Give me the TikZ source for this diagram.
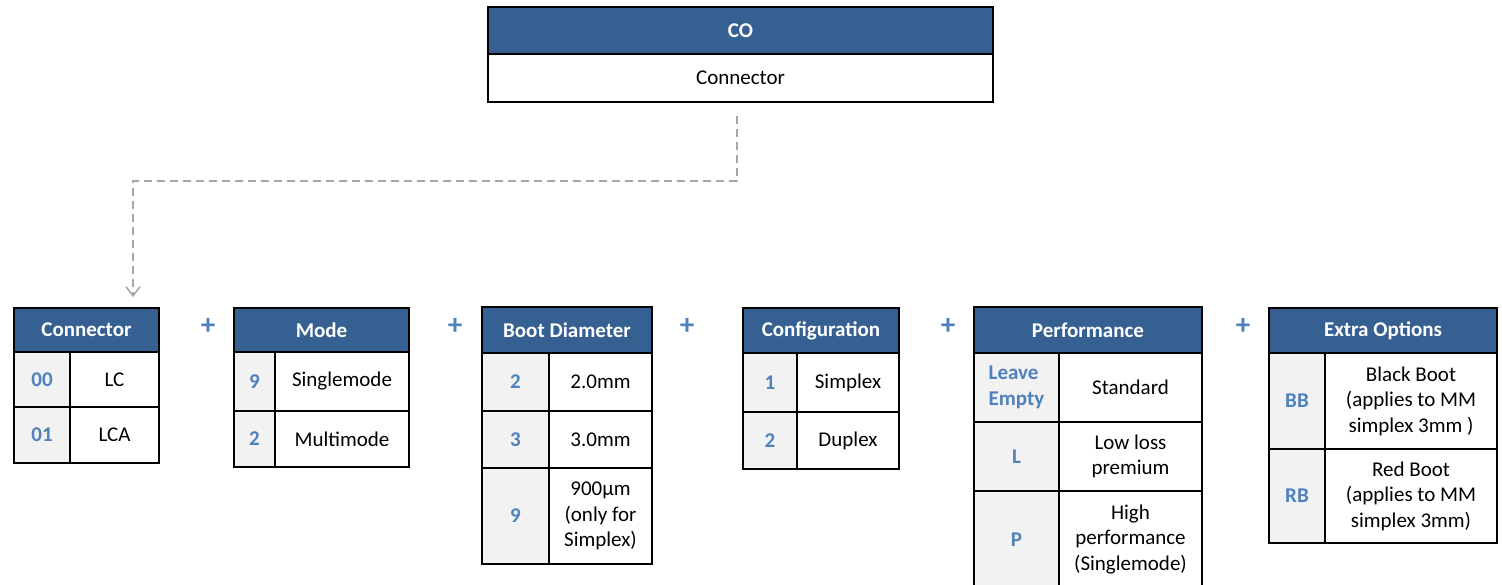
\documentclass[tikz,border=0pt]{standalone}
\usepackage{fontspec}
\setmainfont{Carlito}
\usetikzlibrary{arrows.meta}
\definecolor{hdrblue}{HTML}{366092}
\definecolor{codeblue}{HTML}{4F81BD}
\definecolor{codegray}{HTML}{F2F2F2}
\definecolor{linkgray}{HTML}{A6A6A6}
\begin{document}
\begin{tikzpicture}[x=1pt,y=-1pt,
  every node/.style={font=\fontsize{21}{25.5}\selectfont, inner sep=0pt, outer sep=0pt, anchor=north west},
  cellbox/.style={draw=black, line width=2pt, rectangle},
  hdr/.style={cellbox, fill=hdrblue, text=white, font=\fontsize{21}{25.5}\selectfont\bfseries},
  codecell/.style={cellbox, fill=codegray, text=codeblue, font=\fontsize{21}{25.5}\selectfont\bfseries, align=left},
  txtcell/.style={cellbox, fill=white, text=black, align=center},
  plus/.style={anchor=center, text=codeblue, font=\fontsize{29}{30}\selectfont\bfseries},
  link/.style={draw=linkgray, line width=1.5pt, dash pattern=on 8pt off 5pt, -{Straight Barb[length=9pt,width=14pt]}},
  sz/.style 2 args={minimum width=#1pt, minimum height=#2pt}
]
\clip (0,0) rectangle (1502,584);
\fill[white] (0,0) rectangle (1502,584);

% top box
\node[hdr, sz={505}{47}] (co-h) at (488,7) {CO};
\node[txtcell, sz={505}{48}] (co-b) at (488,54) {Connector};

% Connector table
\node[hdr, sz={145}{44}] (cn-h) at (14,308) {Connector};
\node[codecell, sz={56}{55}] (cn-c1) at (14,352) {00};
\node[txtcell, sz={89}{55}] (cn-t1) at (70,352) {LC};
\node[codecell, sz={56}{56}] (cn-c2) at (14,407) {01};
\node[txtcell, sz={89}{56}] (cn-t2) at (70,407) {LCA};

% Mode table
\node[hdr, sz={175}{44}] (md-h) at (234,308) {Mode};
\node[codecell, sz={41}{59}] (md-c1) at (234,352) {9};
\node[txtcell, sz={134}{59}] (md-t1) at (275,352) {Singlemode};
\node[codecell, sz={41}{56}] (md-c2) at (234,411) {2};
\node[txtcell, sz={134}{56}] (md-t2) at (275,411) {Multimode};

% Boot Diameter table
\node[hdr, sz={170}{46}] (bd-h) at (482,307) {Boot Diameter};
\node[codecell, sz={67}{58}] (bd-c1) at (482,353) {2};
\node[txtcell, sz={103}{58}] (bd-t1) at (549,353) {2.0mm};
\node[codecell, sz={67}{57}] (bd-c2) at (482,411) {3};
\node[txtcell, sz={103}{57}] (bd-t2) at (549,411) {3.0mm};
\node[codecell, sz={67}{96}] (bd-c3) at (482,468) {9};
\node[txtcell, sz={103}{96}] (bd-t3) at (549,468) {900µm\\(only for\\Simplex)};

% Configuration table
\node[hdr, sz={156}{45}] (cf-h) at (743,308) {Configuration};
\node[codecell, sz={54}{59}] (cf-c1) at (743,353) {1};
\node[txtcell, sz={102}{59}] (cf-t1) at (797,353) {Simplex};
\node[codecell, sz={54}{57}] (cf-c2) at (743,412) {2};
\node[txtcell, sz={102}{57}] (cf-t2) at (797,412) {Duplex};

% Performance table
\node[hdr, sz={228}{46}] (pf-h) at (974,307) {Performance};
\node[codecell, sz={85}{69}] (pf-c1) at (974,353) {Leave\\Empty};
\node[txtcell, sz={143}{69}] (pf-t1) at (1059,353) {Standard};
\node[codecell, sz={85}{69}] (pf-c2) at (974,422) {L};
\node[txtcell, sz={143}{69}] (pf-t2) at (1059,422) {Low loss\\premium};
\node[codecell, sz={85}{97}] (pf-c3) at (974,491) {P};
\node[txtcell, sz={143}{97}] (pf-t3) at (1059,491) {High\\performance\\(Singlemode)};

% Extra Options table
\node[hdr, sz={228}{45}] (ex-h) at (1269,308) {Extra Options};
\node[codecell, sz={56}{96}] (ex-c1) at (1269,353) {BB};
\node[txtcell, sz={172}{96}] (ex-t1) at (1325,353) {Black Boot\\(applies to MM\\simplex 3mm )};
\node[codecell, sz={56}{94}] (ex-c2) at (1269,449) {RB};
\node[txtcell, sz={172}{94}] (ex-t2) at (1325,449) {Red Boot\\(applies to MM\\simplex 3mm)};

% plus signs
\node[plus] (p1) at (208,326) {+};
\node[plus] (p2) at (455,326) {+};
\node[plus] (p3) at (687,326) {+};
\node[plus] (p4) at (948,326) {+};
\node[plus] (p5) at (1243,326) {+};

% dashed link
\coordinate (s) at (737,116);
\coordinate (e) at (133,297);
\draw[link] (s) -- ++(0,65) -| (e);
\end{tikzpicture}
\end{document}
